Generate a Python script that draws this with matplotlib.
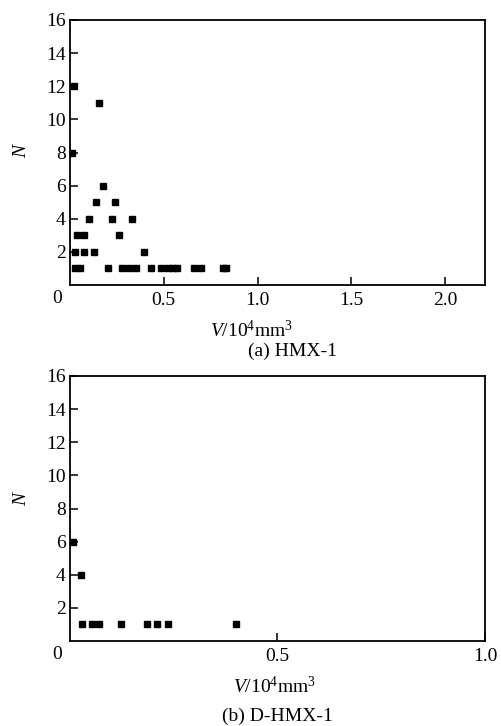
import matplotlib
matplotlib.use('Agg')
import matplotlib.pyplot as plt

plt.rcParams['font.family'] = ['Liberation Serif', 'DejaVu Serif']
plt.rcParams['mathtext.fontset'] = 'custom'
plt.rcParams['mathtext.rm'] = 'Liberation Serif'
plt.rcParams['mathtext.it'] = 'Liberation Serif:italic'

# (a) HMX-1 : volume (10^4 mm^3) vs number N
hmx_v = [0.021, 0.155, 0.012, 0.177, 0.136, 0.240, 0.103, 0.222, 0.330,
         0.039, 0.073, 0.261,
         0.024, 0.073, 0.126, 0.397,
         0.024, 0.055, 0.201, 0.277, 0.313, 0.352, 0.433, 0.484, 0.521,
         0.548, 0.570, 0.661, 0.697, 0.814, 0.834]
hmx_n = [12, 11, 8, 6, 5, 5, 4, 4, 4,
         3, 3, 3,
         2, 2, 2, 2,
         1, 1, 1, 1, 1, 1, 1, 1, 1,
         1, 1, 1, 1, 1, 1]

# (b) D-HMX-1
dhmx_v = [0.008, 0.026, 0.029, 0.054, 0.069, 0.124, 0.186, 0.210, 0.236, 0.399]
dhmx_n = [6, 4, 1, 1, 1, 1, 1, 1, 1, 1]

W, H = 502, 726
FS = 14
fig = plt.figure(figsize=(W / 100, H / 100), dpi=100)


def px(x, y):
    return x / W, 1 - y / H


def setup(ax, xmax, xticks, xticklabels):
    ax.set_xlim(0, xmax)
    ax.set_ylim(0, 16)
    ax.set_xticks(xticks)
    ax.set_xticklabels(xticklabels)
    ax.set_yticks([2, 4, 6, 8, 10, 12, 14, 16])
    ax.tick_params(direction='in', length=6, width=1.1, labelsize=FS,
                   top=False, right=False)
    ax.tick_params(axis='x', pad=5)
    ax.tick_params(axis='y', pad=3)
    for s in ax.spines.values():
        s.set_linewidth(1.3)
    ax.annotate('0', xy=(0, 0), xycoords='axes fraction', xytext=(-9, -10),
                textcoords='offset points', ha='center', va='center', fontsize=FS)


# top panel
ax1 = fig.add_axes([70 / W, 1 - 285 / H, 415 / W, 265 / H])
ax1.plot(hmx_v, hmx_n, 's', color='black', markersize=5)
setup(ax1, 2.213, [0.5, 1.0, 1.5, 2.0], ['0.5', '1.0', '1.5', '2.0'])
fig.text(*px(22, 150), r'$N$', rotation=90, ha='center', va='center', fontsize=FS)
fig.text(*px(252, 330), r'$V\mathrm{/10^4mm^3}$', ha='center', va='center', fontsize=FS)
fig.text(*px(292, 351), '(a) HMX-1', ha='center', va='center', fontsize=FS)

# bottom panel
ax2 = fig.add_axes([70 / W, 1 - 641 / H, 415 / W, 265 / H])
ax2.plot(dhmx_v, dhmx_n, 's', color='black', markersize=5)
setup(ax2, 1.0, [0.5, 1.0], ['0.5', '1.0'])
fig.text(*px(22, 498), r'$N$', rotation=90, ha='center', va='center', fontsize=FS)
fig.text(*px(275, 687), r'$V\mathrm{/10^4mm^3}$', ha='center', va='center', fontsize=FS)
fig.text(*px(277, 716), '(b) D-HMX-1', ha='center', va='center', fontsize=FS)

fig.savefig('out.png', dpi=100)
